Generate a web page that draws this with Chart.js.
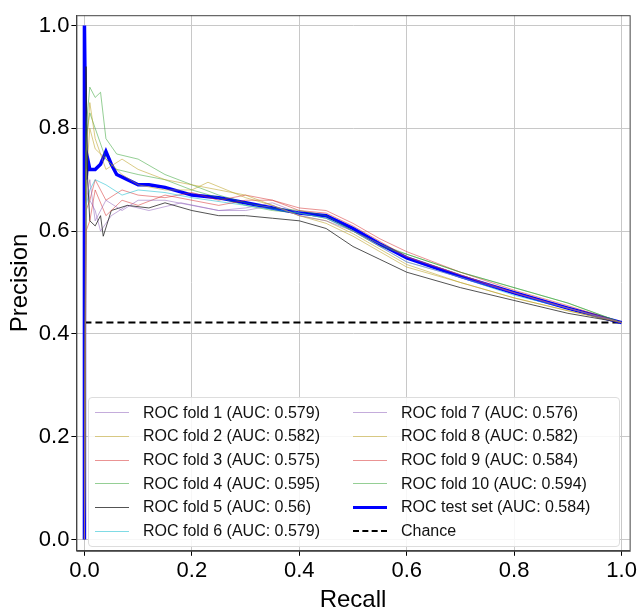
<!DOCTYPE html>
<html>
<head>
<meta charset="utf-8">
<script src="https://cdn.jsdelivr.net/npm/chart.js@4/dist/chart.umd.min.js"></script>
<style>
  body { margin: 0; background: #fff; font-family: "Liberation Sans", Arial, sans-serif; }
  #wrap { position: relative; width: 639px; height: 615px; }
  #legend { position: absolute; left: 88px; top: 397px; width: 532px; height: 150px; box-sizing: border-box;
    border: 1px solid #ddd; border-radius: 4px; background: rgba(255,255,255,0.85);
    display: grid; grid-template-columns: 258px 1fr; grid-auto-flow: column; grid-template-rows: repeat(6, 1fr);
    padding: 3px 6px; font-size: 16px; color: #111; }
  .item { display: flex; align-items: center; gap: 14px; white-space: nowrap; }
  .sw { width: 34px; height: 0; border-top: 1px solid; }
</style>
</head>
<body>
<div id="wrap">
  <canvas id="c" width="639" height="615"></canvas>
  <div id="legend"></div>
</div>
<script>
const foldLabels = ["ROC fold 1 (AUC: 0.579)", "ROC fold 2 (AUC: 0.582)", "ROC fold 3 (AUC: 0.575)",
  "ROC fold 4 (AUC: 0.595)", "ROC fold 5 (AUC: 0.56)", "ROC fold 6 (AUC: 0.579)",
  "ROC fold 7 (AUC: 0.576)", "ROC fold 8 (AUC: 0.582)", "ROC fold 9 (AUC: 0.584)", "ROC fold 10 (AUC: 0.594)"];
const foldColors = ["rgba(148,103,189,0.55)", "rgba(188,160,34,0.55)", "rgba(214,39,40,0.5)",
  "rgba(44,160,44,0.5)", "rgba(40,40,40,0.8)", "rgba(23,190,207,0.55)",
  "rgba(148,103,189,0.55)", "rgba(188,160,34,0.55)", "rgba(214,39,40,0.5)", "rgba(44,160,44,0.5)"];

const fold1 = [[0,0],[0.002,0.65],[0.01,0.7],[0.02,0.62],[0.04,0.66],[0.07,0.64],[0.1,0.66],[0.15,0.66],[0.2,0.65],[0.25,0.64],[0.3,0.64],[0.35,0.65],[0.4,0.63],[0.45,0.62],[0.5,0.6],[0.55,0.57],[0.6,0.54],[0.7,0.51],[0.8,0.48],[0.9,0.45],[1,0.422]];
const fold2 = [[0,0],[0.003,0.75],[0.01,0.85],[0.02,0.78],[0.04,0.72],[0.07,0.74],[0.1,0.72],[0.15,0.7],[0.2,0.69],[0.25,0.68],[0.3,0.67],[0.35,0.65],[0.4,0.63],[0.45,0.615],[0.5,0.59],[0.55,0.56],[0.6,0.53],[0.7,0.5],[0.8,0.47],[0.9,0.445],[1,0.422]];
const fold3 = [[0,0],[0.003,0.6],[0.01,0.62],[0.02,0.68],[0.04,0.63],[0.07,0.66],[0.1,0.65],[0.15,0.67],[0.2,0.66],[0.25,0.65],[0.3,0.66],[0.35,0.66],[0.4,0.64],[0.45,0.635],[0.5,0.61],[0.55,0.58],[0.6,0.55],[0.7,0.515],[0.8,0.48],[0.9,0.45],[1,0.422]];
const fold4 = [[0,0],[0.003,0.8],[0.01,0.88],[0.02,0.86],[0.03,0.87],[0.04,0.78],[0.06,0.75],[0.1,0.74],[0.15,0.71],[0.2,0.69],[0.25,0.67],[0.3,0.655],[0.35,0.645],[0.4,0.64],[0.45,0.63],[0.5,0.6],[0.55,0.57],[0.6,0.555],[0.7,0.52],[0.8,0.49],[0.9,0.46],[1,0.422]];
const fold5 = [[0,0],[0.003,0.92],[0.006,0.7],[0.01,0.62],[0.02,0.61],[0.03,0.63],[0.035,0.59],[0.05,0.64],[0.08,0.65],[0.12,0.645],[0.15,0.655],[0.2,0.64],[0.25,0.63],[0.3,0.63],[0.35,0.625],[0.4,0.62],[0.45,0.605],[0.5,0.57],[0.55,0.545],[0.6,0.52],[0.7,0.49],[0.8,0.465],[0.9,0.44],[1,0.422]];
const fold6 = [[0,0],[0.003,0.65],[0.01,0.68],[0.02,0.7],[0.04,0.69],[0.07,0.67],[0.1,0.68],[0.15,0.675],[0.2,0.665],[0.3,0.65],[0.4,0.635],[0.45,0.625],[0.5,0.6],[0.55,0.57],[0.6,0.54],[0.7,0.51],[0.8,0.475],[0.9,0.45],[1,0.422]];
const fold7 = [[0,0],[0.003,0.72],[0.01,0.66],[0.02,0.64],[0.03,0.6],[0.05,0.63],[0.08,0.65],[0.12,0.64],[0.18,0.655],[0.25,0.64],[0.3,0.645],[0.35,0.655],[0.4,0.635],[0.45,0.625],[0.5,0.6],[0.55,0.575],[0.6,0.55],[0.7,0.515],[0.8,0.48],[0.9,0.45],[1,0.422]];
const fold8 = [[0,0],[0.003,0.7],[0.01,0.8],[0.02,0.76],[0.04,0.74],[0.07,0.71],[0.1,0.69],[0.15,0.68],[0.2,0.68],[0.23,0.695],[0.3,0.665],[0.35,0.65],[0.4,0.63],[0.45,0.62],[0.5,0.595],[0.55,0.565],[0.6,0.535],[0.7,0.5],[0.8,0.47],[0.9,0.445],[1,0.422]];
const fold9 = [[0,0],[0.003,0.64],[0.01,0.66],[0.02,0.7],[0.04,0.66],[0.07,0.68],[0.1,0.67],[0.15,0.665],[0.2,0.675],[0.25,0.66],[0.3,0.67],[0.35,0.66],[0.4,0.645],[0.45,0.64],[0.5,0.615],[0.55,0.585],[0.6,0.56],[0.7,0.52],[0.8,0.485],[0.9,0.455],[1,0.422]];
const fold10 = [[0,0],[0.003,0.78],[0.01,0.83],[0.02,0.8],[0.04,0.74],[0.06,0.72],[0.1,0.71],[0.15,0.7],[0.2,0.68],[0.25,0.665],[0.3,0.65],[0.35,0.64],[0.4,0.635],[0.45,0.625],[0.5,0.6],[0.55,0.575],[0.6,0.555],[0.7,0.52],[0.8,0.49],[0.9,0.46],[1,0.422]];
const folds = [fold1, fold2, fold3, fold4, fold5, fold6, fold7, fold8, fold9, fold10];

const testLabel = "ROC test set (AUC: 0.584)";
const testSet = [[0,0],[0,1],[0.003,0.7],[0.006,0.74],[0.01,0.72],[0.02,0.72],[0.03,0.73],[0.04,0.755],[0.05,0.73],[0.06,0.71],[0.08,0.7],[0.1,0.69],[0.12,0.69],[0.15,0.685],[0.2,0.67],[0.25,0.665],[0.3,0.655],[0.35,0.645],[0.4,0.635],[0.45,0.63],[0.5,0.605],[0.55,0.575],[0.6,0.548],[0.7,0.512],[0.8,0.48],[0.9,0.45],[1,0.422]];
const chanceLabel = "Chance";
const chance = [[0,0.422],[1,0.422]];

const toXY = arr => arr.map(p => ({ x: p[0], y: p[1] }));

const datasets = folds.map((f, i) => ({
  label: foldLabels[i], data: toXY(f), borderColor: foldColors[i], borderWidth: 1
}));
datasets.push({ label: testLabel, data: toXY(testSet), borderColor: "#0000ff", borderWidth: 3.5 });
datasets.push({ label: chanceLabel, data: toXY(chance), borderColor: "#000", borderWidth: 2, borderDash: [7, 4] });

// full box round the plot area, like matplotlib spines
const frame = {
  id: "frame",
  afterDraw(chart) {
    const { ctx, chartArea: a } = chart;
    ctx.save();
    ctx.strokeStyle = "#444";
    ctx.lineWidth = 1;
    ctx.strokeRect(a.left + 0.5, a.top + 0.5, a.right - a.left, a.bottom - a.top);
    ctx.restore();
  }
};

const tickFont = { size: 22, family: "Liberation Sans" };
const titleFont = { size: 24, family: "Liberation Sans" };

new Chart(document.getElementById("c"), {
  type: "line",
  data: { datasets },
  plugins: [frame],
  options: {
    responsive: false, animation: false,
    layout: { padding: { top: 12, right: 9, left: 4, bottom: 0 } },
    elements: { point: { radius: 0 }, line: { tension: 0 } },
    plugins: { legend: { display: false }, tooltip: { enabled: false } },
    scales: {
      x: { type: "linear", min: -0.015, max: 1.015,
        afterBuildTicks: ax => { ax.ticks = [0, 0.2, 0.4, 0.6, 0.8, 1].map(v => ({ value: v })); },
        ticks: { callback: v => v.toFixed(1), color: "#000", font: tickFont, padding: 2 },
        grid: { color: "#c8c8c8", tickColor: "#000", tickLength: 5 },
        border: { color: "#444" },
        title: { display: true, text: "Recall", color: "#000", padding: 0, font: titleFont } },
      y: { min: -0.022, max: 1.02,
        afterBuildTicks: ax => { ax.ticks = [0, 0.2, 0.4, 0.6, 0.8, 1].map(v => ({ value: v })); },
        ticks: { callback: v => v.toFixed(1), color: "#000", font: tickFont, padding: 2 },
        grid: { color: "#c8c8c8", tickColor: "#000", tickLength: 5 },
        border: { color: "#444" },
        title: { display: true, text: "Precision", color: "#000", padding: 2, font: titleFont } }
    }
  }
});

const legendBox = document.getElementById("legend");
let html = "";
datasets.forEach(d => {
  const style = d.borderDash ? `border-top:${d.borderWidth}px dashed ${d.borderColor}` : `border-top:${d.borderWidth}px solid ${d.borderColor}`;
  html += `<div class="item"><span class="sw" style="${style}"></span><span>${d.label}</span></div>`;
});
legendBox.innerHTML = html;
</script>
</body>
</html>
